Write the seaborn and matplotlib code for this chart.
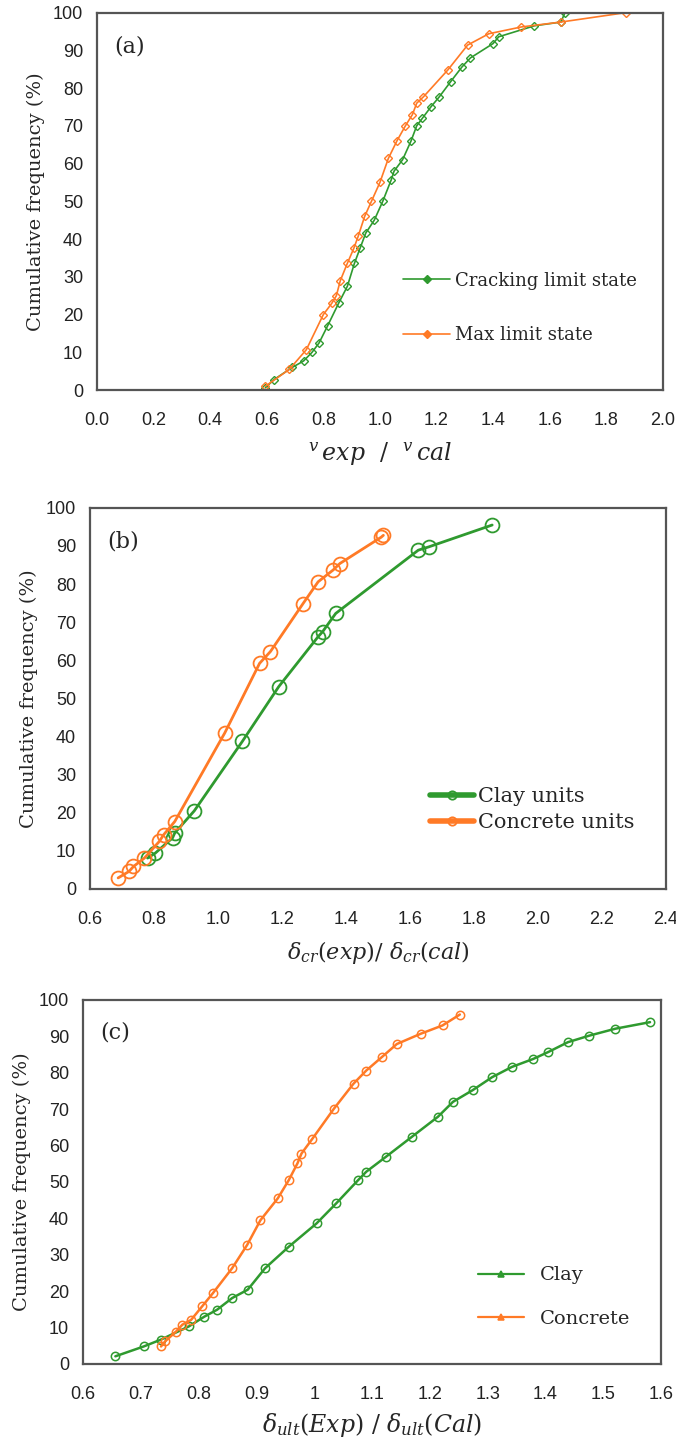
import numpy as np
import pandas as pd
import matplotlib
matplotlib.use("Agg")
import matplotlib.pyplot as plt
import seaborn as sns

# ---- panel (a): v_exp / v_cal ----
a_crack_x = [0.595, 0.626, 0.69, 0.73, 0.76, 0.785, 0.815, 0.854, 0.885, 0.91, 0.93, 0.95, 0.98,
             1.01, 1.04, 1.05, 1.08, 1.11, 1.13, 1.15, 1.18, 1.21, 1.25, 1.29, 1.32, 1.40, 1.42,
             1.546, 1.64, 1.654]
a_crack_y = [0.6, 2.8, 6.0, 7.7, 10.0, 12.5, 17.0, 23.0, 27.5, 33.6, 37.6, 41.6, 45.0,
             50.0, 55.7, 58.0, 61.0, 66.0, 70.0, 72.0, 75.0, 77.7, 81.7, 85.6, 88.0, 91.8, 93.6,
             96.5, 97.5, 100.0]
a_max_x = [0.595, 0.68, 0.74, 0.80, 0.83, 0.846, 0.86, 0.885, 0.908, 0.923, 0.946, 0.97, 1.0,
           1.03, 1.06, 1.09, 1.115, 1.13, 1.154, 1.24, 1.31, 1.385, 1.50, 1.64, 1.87]
a_max_y = [1.0, 5.5, 10.7, 20.0, 23.0, 25.0, 29.0, 33.6, 37.6, 40.7, 46.0, 50.0, 55.0,
           61.4, 66.0, 70.0, 73.0, 76.0, 77.7, 84.8, 91.4, 94.4, 96.2, 97.5, 100.0]
a_labels = ["Cracking limit state", "Max limit state"]

# ---- panel (b): delta_cr(exp) / delta_cr(cal) ----
b_clay_x = [0.78, 0.804, 0.858, 0.865, 0.926, 1.076, 1.19, 1.313, 1.327, 1.368, 1.626, 1.66, 1.857]
b_clay_y = [8.1, 9.4, 13.4, 14.7, 20.5, 38.7, 53.1, 66.2, 67.5, 72.3, 88.9, 89.8, 95.5]
b_conc_x = [0.688, 0.722, 0.736, 0.77, 0.817, 0.83, 0.865, 1.021, 1.13, 1.164, 1.266, 1.313,
            1.36, 1.381, 1.51, 1.517]
b_conc_y = [2.9, 4.6, 5.9, 8.1, 12.5, 14.2, 17.7, 40.9, 59.2, 62.3, 74.9, 80.6,
            83.7, 85.4, 92.3, 92.8]
b_labels = ["Clay units", "Concrete units"]

# ---- panel (c): delta_ult(Exp) / delta_ult(Cal) ----
c_clay_x = [0.656, 0.705, 0.735, 0.783, 0.81, 0.832, 0.858, 0.885, 0.915, 0.956, 1.004, 1.038,
            1.076, 1.09, 1.124, 1.169, 1.214, 1.24, 1.274, 1.308, 1.342, 1.379, 1.405, 1.439,
            1.476, 1.521, 1.581]
c_clay_y = [2.1, 4.8, 6.7, 10.3, 13.0, 14.9, 18.1, 20.4, 26.3, 32.2, 38.6, 44.1,
            50.5, 52.8, 56.9, 62.4, 67.9, 72.0, 75.2, 78.8, 81.6, 83.8, 85.7, 88.4,
            90.2, 92.1, 93.9]
c_conc_x = [0.735, 0.742, 0.761, 0.772, 0.787, 0.806, 0.825, 0.858, 0.884, 0.907, 0.937, 0.956,
            0.971, 0.978, 0.997, 1.034, 1.068, 1.09, 1.117, 1.143, 1.184, 1.222, 1.252]
c_conc_y = [4.8, 6.2, 8.9, 10.8, 12.1, 15.8, 19.5, 26.3, 32.7, 39.5, 45.5, 50.5,
            55.1, 57.8, 61.9, 70.1, 77.0, 80.6, 84.3, 87.9, 90.7, 93.0, 96.0]
c_labels = ["Clay", "Concrete"]

GREEN = "#2f9a2f"
ORANGE = "#ff7a26"
TICKFONT = "Liberation Sans"

sns.set_style("white")
plt.rcParams["font.family"] = ["DejaVu Serif"]
plt.rcParams["mathtext.fontset"] = "dejavuserif"


def make_df(x1, y1, x2, y2, labels):
    d1 = pd.DataFrame({"x": x1, "y": y1, "series": labels[0]})
    d2 = pd.DataFrame({"x": x2, "y": y2, "series": labels[1]})
    return pd.concat([d1, d2], ignore_index=True)


def fix_markers(ax):
    # seaborn draws white marker edges; make them the line colour and hollow
    for ln in ax.lines:
        ln.set_markeredgecolor(ln.get_color())
        ln.set_markerfacecolor("none")


def style_axes(ax, xticks, xticklabels, xlim, xlabel, xlabelsize, xlabelpad, tag):
    ax.set_xlim(*xlim)
    ax.set_ylim(0, 100)
    ax.set_xticks(xticks)
    ax.set_xticklabels(xticklabels, family=TICKFONT, fontsize=13)
    ax.set_yticks(np.arange(0, 101, 10))
    ax.set_yticklabels([str(v) for v in range(0, 101, 10)], family=TICKFONT, fontsize=13)
    for s in ax.spines.values():
        s.set_color("#555555")
        s.set_linewidth(1.6)
    ax.tick_params(axis="both", direction="out", length=4, width=1.2, color="#555555",
                   labelcolor="#222222")
    ax.tick_params(axis="x", pad=12)
    ax.tick_params(axis="y", pad=6)
    ax.set_ylabel("Cumulative frequency (%)", fontsize=14, labelpad=6)
    ax.set_xlabel(xlabel, fontsize=xlabelsize, labelpad=xlabelpad)
    ax.text(0.03, 0.94, tag, transform=ax.transAxes, fontsize=16, va="top", ha="left")


fig = plt.figure(figsize=(6.76, 14.49), dpi=100)

# (a)
ax1 = fig.add_axes([0.1435, 0.7308, 0.837, 0.2605])
df_a = make_df(a_crack_x, a_crack_y, a_max_x, a_max_y, a_labels)
sns.lineplot(data=df_a, x="x", y="y", hue="series", palette=[GREEN, ORANGE], sort=False,
             estimator=None, marker="D", markersize=4, mew=1.0, lw=1.2, ax=ax1)
fix_markers(ax1)
xa = np.round(np.arange(0, 2.01, 0.2), 1)
style_axes(ax1, xa, [f"{v:.1f}" for v in xa], (0, 2.0),
           r"$^{v}\,exp\ \ /\ \ ^{v}\,cal$", 17, 8, "(a)")
handles, _ = ax1.get_legend_handles_labels()
for h in handles:
    h.set_markeredgecolor(h.get_color())
    h.set_markerfacecolor(h.get_color())
ax1.legend(handles, a_labels, loc="center left", bbox_to_anchor=(0.541, 0.218), frameon=False,
           fontsize=13, handlelength=2.6, labelspacing=2.0, handletextpad=0.25,
           borderpad=0, borderaxespad=0)

# (b)
ax2 = fig.add_axes([0.1331, 0.3865, 0.852, 0.263])
df_b = make_df(b_clay_x, b_clay_y, b_conc_x, b_conc_y, b_labels)
sns.lineplot(data=df_b, x="x", y="y", hue="series", palette=[GREEN, ORANGE], sort=False,
             estimator=None, marker="o", markersize=10, mew=1.3, lw=2.0, ax=ax2)
fix_markers(ax2)
xb = np.round(np.arange(0.6, 2.41, 0.2), 1)
style_axes(ax2, xb, [f"{v:.1f}" for v in xb], (0.6, 2.4),
           r"$\delta_{cr}(exp)/\ \delta_{cr}(cal)$", 16, 8, "(b)")
handles, _ = ax2.get_legend_handles_labels()
for h in handles:
    h.set_linewidth(4)
    h.set_markersize(6)
    h.set_markeredgecolor(h.get_color())
    h.set_markerfacecolor("none")
ax2.legend(handles, b_labels, loc="center left", bbox_to_anchor=(0.59, 0.208), frameon=False,
           fontsize=15, handlelength=2.1, labelspacing=0.35, handletextpad=0.2,
           borderpad=0, borderaxespad=0)

# (c)
ax3 = fig.add_axes([0.1228, 0.0587, 0.855, 0.2512])
df_c = make_df(c_clay_x, c_clay_y, c_conc_x, c_conc_y, c_labels)
sns.lineplot(data=df_c, x="x", y="y", hue="series", palette=[GREEN, ORANGE], sort=False,
             estimator=None, marker="o", markersize=6, mew=1.1, lw=1.8, ax=ax3)
fix_markers(ax3)
xc = np.round(np.arange(0.6, 1.61, 0.1), 1)
style_axes(ax3, xc, ["1" if v == 1.0 else f"{v:.1f}" for v in xc], (0.6, 1.6),
           r"$\delta_{ult}(Exp)\ /\ \delta_{ult}(Cal)$", 17, 6, "(c)")
handles, _ = ax3.get_legend_handles_labels()
for h in handles:
    h.set_linewidth(1.6)
    h.set_markersize(4)
    h.set_marker("^")
    h.set_markeredgecolor(h.get_color())
    h.set_markerfacecolor(h.get_color())
ax3.legend(handles, c_labels, loc="center left", bbox_to_anchor=(0.683, 0.184), frameon=False,
           fontsize=14, handlelength=2.4, labelspacing=1.3, handletextpad=0.77,
           borderpad=0, borderaxespad=0)

fig.savefig("out.png", dpi=100)
